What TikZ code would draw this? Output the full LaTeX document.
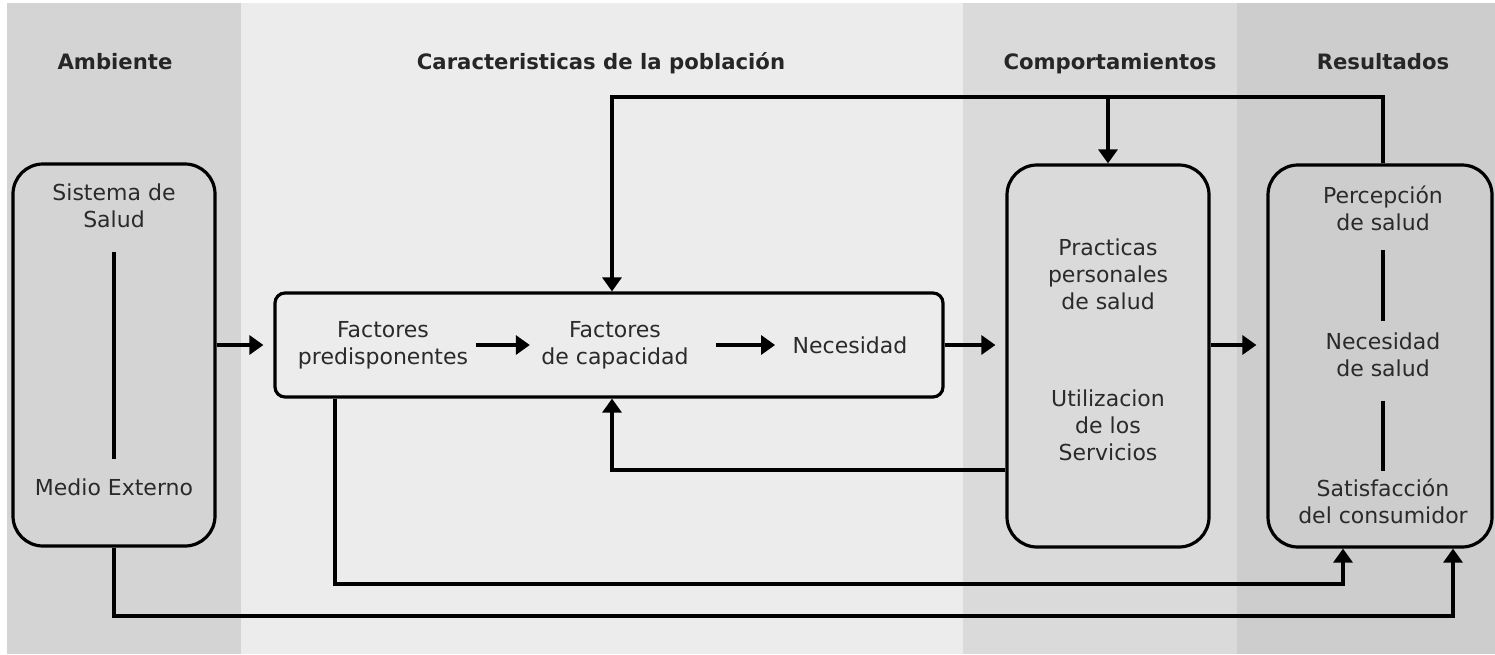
\documentclass[tikz,border=0pt]{standalone}
\usepackage{fontspec}
\setmainfont{DejaVu Sans}
\usetikzlibrary{arrows.meta}
\definecolor{bandA}{HTML}{D4D4D4}
\definecolor{bandB}{HTML}{ECECEC}
\definecolor{bandC}{HTML}{DADADA}
\definecolor{bandD}{HTML}{CDCDCD}
\definecolor{ink}{HTML}{2A2A2A}
\tikzset{
  panel/.style={draw, line width=1.6pt, rounded corners=15pt, minimum width=101pt, minimum height=191pt},
  txt/.style={align=center, text=ink, font=\fontsize{11}{13.5}\selectfont, inner sep=2pt},
  colhead/.style={anchor=base, text=black!85, font=\fontsize{10.6}{13}\selectfont\bfseries},
}
\begin{document}
\begin{tikzpicture}[x=0.5pt, y=-0.5pt, line width=1.6pt, >={Triangle[length=7pt,width=9.5pt]}]
\useasboundingbox (0,0) rectangle (1495,654);
\fill[white] (0,0) rectangle (1495,654);
\fill[bandA] (7,3) rectangle (241,654);
\fill[bandB] (241,3) rectangle (963,654);
\fill[bandC] (963,3) rectangle (1237,654);
\fill[bandD] (1237,3) rectangle (1495,654);

\node (hamb)[colhead] at (115,69) {Ambiente};
\node (hcar)[colhead] at (601,69) {Caracteristicas de la población};
\node (hcom)[colhead] at (1110,69) {Comportamientos};
\node (hres)[colhead] at (1383,69) {Resultados};

\node (amb)[panel] at (114,355) {};
\node (fac)[panel, minimum width=334pt, minimum height=52pt, rounded corners=5pt] at (609,345) {};
\node (comp)[panel] at (1108,356) {};
\node (res)[panel, minimum width=112pt] at (1380,356) {};

\node (sist)[txt] at (114,206) {Sistema de\\Salud};
\node (medio)[txt] at (114,487) {Medio Externo};
\node (pred)[txt] at (383,345) {Factores\\predisponentes};
\node (cap)[txt] at (615,345) {Factores\\de capacidad};
\node (nec)[txt] at (850,345) {Necesidad};
\node (prac)[txt] at (1108,274) {Practicas\\personales\\de salud};
\node (util)[txt] at (1108,425) {Utilizacion\\de los\\Servicios};
\node (perc)[txt] at (1383,208) {Percepción\\de salud};
\node (necs)[txt] at (1383,355) {Necesidad\\de salud};
\node (sat)[txt] at (1383,501) {Satisfacción\\del consumidor};

\coordinate (ftop) at (612,97);
\coordinate (fbot) at (612,470);
\coordinate (oa) at (335,584);
\coordinate (ob) at (114,616);

\draw[shorten <=9pt, shorten >=7pt] (sist) -- (medio);
\draw[shorten <=7pt, shorten >=3pt] (perc) -- (necs);
\draw[shorten <=9pt, shorten >=1pt] (necs) -- (sat);

\draw[->, shorten >=5pt] (amb.east |- fac.west) -- (fac.west);
\draw[->, shorten <=1pt, shorten >=3pt] (pred) -- (cap);
\draw[->, shorten <=11pt, shorten >=6pt] (cap) -- (nec);
\draw[->, shorten >=5pt] (fac.east) -- (comp.west |- fac.east);
\draw[->, shorten >=5pt] (comp.east |- fac.east) -- (res.west |- fac.east);

\draw[->] (res.north -| perc) |- (ftop) -- (fac.north -| ftop);
\draw[->] (comp.north |- ftop) -- (comp.north);
\draw[->] (comp.west |- fbot) -- (fbot) -- (fac.south -| fbot);
\draw[->] (fac.south -| oa) -- (oa) -| ([xshift=-18.5pt]res.south);
\draw[->] (amb.south) -- (amb.south |- ob) -| ([xshift=36.5pt]res.south);
\end{tikzpicture}
\end{document}
